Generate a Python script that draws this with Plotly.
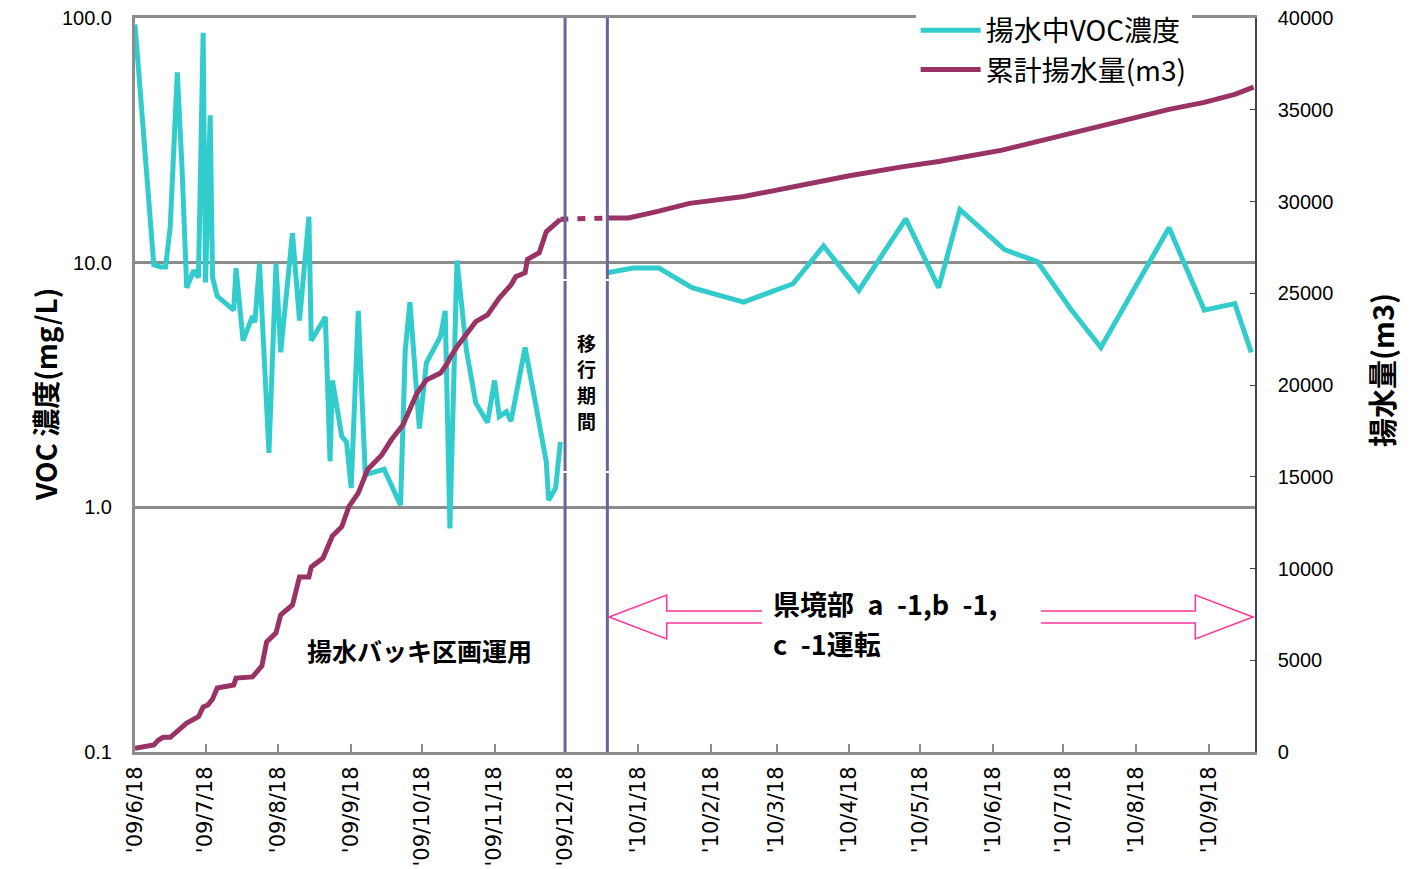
import pandas as pd
import plotly.graph_objects as go

# ---- data -------------------------------------------------------------
# VOC concentration in pumped water (mg/L), packer-block operation period
voc_dates_a = [
    "2009-06-18", "2009-06-26", "2009-06-29", "2009-07-01", "2009-07-03", "2009-07-06",
    "2009-07-08", "2009-07-10", "2009-07-13", "2009-07-15", "2009-07-17", "2009-07-18",
    "2009-07-20", "2009-07-21", "2009-07-23", "2009-07-30", "2009-07-31", "2009-08-03",
    "2009-08-07", "2009-08-08", "2009-08-10", "2009-08-14", "2009-08-17", "2009-08-19",
    "2009-08-24", "2009-08-27", "2009-08-31", "2009-09-01", "2009-09-07", "2009-09-09",
    "2009-09-10", "2009-09-14", "2009-09-16", "2009-09-18", "2009-09-21", "2009-09-24",
    "2009-10-02", "2009-10-09", "2009-10-11", "2009-10-13", "2009-10-17", "2009-10-20",
    "2009-10-26", "2009-10-28", "2009-10-30", "2009-11-02", "2009-11-06", "2009-11-10",
    "2009-11-15", "2009-11-18", "2009-11-20", "2009-11-23", "2009-11-25", "2009-11-27",
    "2009-12-01", "2009-12-10", "2009-12-11", "2009-12-14", "2009-12-16",
]
voc_values_a = [
    94, 9.8, 9.6, 9.6, 14, 60,
    24.6, 7.9, 9.3, 8.7, 87, 8.3,
    40, 8.7, 7.3, 6.4, 9.5, 4.8,
    6.05, 5.7, 9.9, 1.67, 9.9, 4.3,
    13.2, 5.8, 15.4, 4.8, 6.0, 1.54,
    3.3, 1.95, 1.85, 1.2, 6.35, 1.36,
    1.43, 1.02, 4.4, 6.9, 2.1, 3.9,
    5.0, 6.35, 0.82, 10.2, 4.4, 2.67,
    2.22, 3.3, 2.35, 2.46, 2.25, 2.9,
    4.5, 1.54, 1.07, 1.2, 1.85,
]

# VOC concentration, boundary wells a-1, b-1, c-1 operation period
voc_dates_b = [
    "2010-01-05", "2010-01-16", "2010-01-27", "2010-02-10", "2010-03-04", "2010-03-25",
    "2010-04-07", "2010-04-22", "2010-05-12", "2010-05-26", "2010-06-04", "2010-06-23",
    "2010-07-07", "2010-07-21", "2010-08-03", "2010-09-01", "2010-09-16", "2010-09-29",
    "2010-10-06",
]
voc_values_b = [
    9.1, 9.5, 9.5, 7.9, 6.9, 8.2,
    11.7, 7.7, 15.1, 7.9, 16.5, 11.3,
    10.1, 6.5, 4.5, 13.9, 6.4, 6.8,
    4.3,
]

# cumulative pumped volume (m3)
pump_dates_a = [
    "2009-06-18", "2009-06-26", "2009-06-28", "2009-06-30", "2009-07-03", "2009-07-07",
    "2009-07-10", "2009-07-15", "2009-07-17", "2009-07-19", "2009-07-21", "2009-07-23",
    "2009-07-30", "2009-07-31", "2009-08-03", "2009-08-07", "2009-08-11", "2009-08-13",
    "2009-08-17", "2009-08-19", "2009-08-24", "2009-08-27", "2009-08-31", "2009-09-01",
    "2009-09-06", "2009-09-10", "2009-09-14", "2009-09-17", "2009-09-21", "2009-09-25",
    "2009-10-01", "2009-10-05", "2009-10-10", "2009-10-16", "2009-10-20", "2009-10-26",
    "2009-10-29", "2009-10-30", "2009-11-02", "2009-11-10", "2009-11-15", "2009-11-20",
    "2009-11-25", "2009-11-27", "2009-12-01", "2009-12-02", "2009-12-07", "2009-12-10",
    "2009-12-16",
]
pump_values_a = [
    200, 380, 650, 800, 800, 1200,
    1580, 1920, 2450, 2560, 2890, 3490,
    3650, 4030, 4030, 4090, 4690, 5990,
    6490, 7470, 8010, 9540, 9540, 10080,
    10570, 11770, 12280, 13370, 14110, 15400,
    16190, 17000, 17820, 19560, 20270, 20650,
    21200, 21470, 22090, 23450, 23820, 24740,
    25450, 25900, 26120, 26850, 27210, 28350,
    29030,
]
pump_dates_b = [
    "2010-01-05", "2010-01-14", "2010-01-26", "2010-02-09", "2010-03-04", "2010-03-25",
    "2010-04-18", "2010-05-11", "2010-05-26", "2010-06-22", "2010-07-07", "2010-08-03",
    "2010-09-01", "2010-09-16", "2010-09-29", "2010-10-07",
]
pump_values_b = [
    29100, 29100, 29450, 29900, 30270, 30800,
    31400, 31900, 32180, 32800, 33270, 34150,
    35020, 35400, 35840, 36230,
]

# axis ticks
x_tick_dates = [
    "2009-06-18", "2009-07-18", "2009-08-18", "2009-09-18", "2009-10-18", "2009-11-18",
    "2009-12-18", "2010-01-18", "2010-02-18", "2010-03-18", "2010-04-18", "2010-05-18",
    "2010-06-18", "2010-07-18", "2010-08-18", "2010-09-18",
]
x_tick_labels = [
    "'09/6/18", "'09/7/18", "'09/8/18", "'09/9/18", "'09/10/18", "'09/11/18",
    "'09/12/18", "'10/1/18", "'10/2/18", "'10/3/18", "'10/4/18", "'10/5/18",
    "'10/6/18", "'10/7/18", "'10/8/18", "'10/9/18",
]
voc_tick_values = [0.1, 1, 10, 100]
voc_tick_labels = ["0.1", "1.0", "10.0", "100.0"]

# transition period between the two operating modes
transition_start = "2009-12-18"
transition_end = "2010-01-05"
transition_label = ["移", "行", "期", "間"]

# ---- styling ----------------------------------------------------------
TEAL = "#33CCCC"
PLUM = "#993366"
SLATE = "#666699"
PINK = "#FF3399"
GRID = "#8C8C8C"
JP = "Noto Sans CJK JP"
NUM = "Liberation Sans, Arial, sans-serif"

x_start = pd.Timestamp("2009-06-18")
x_end = pd.Timestamp("2010-10-07 14:00")
PLOT_W = 1421 - 135 - 166  # plot-area width in px
PLOT_H = 869 - 18 - 117    # plot-area height in px


def xpaper(d):
    """Date -> fraction of the plot width."""
    return (pd.Timestamp(d) - x_start) / (x_end - x_start)


def ypx(py):
    """Pixel row measured from the top of the figure -> paper fraction."""
    return (752 - py) / PLOT_H


def xpx(px):
    """Pixel column measured from the left of the figure -> paper fraction."""
    return (px - 135) / PLOT_W


fig = go.Figure()

# VOC concentration (one trace, gap during transition)
fig.add_trace(go.Scatter(
    x=voc_dates_a + [None] + voc_dates_b,
    y=voc_values_a + [None] + voc_values_b,
    mode="lines", name="揚水中VOC濃度",
    line=dict(color=TEAL, width=5),
    connectgaps=False, yaxis="y",
))

# cumulative pumped volume
fig.add_trace(go.Scatter(
    x=pump_dates_a + [None] + pump_dates_b,
    y=pump_values_a + [None] + pump_values_b,
    mode="lines", name="累計揚水量(m3)",
    line=dict(color=PLUM, width=5),
    connectgaps=False, yaxis="y2",
))
# dashed bridge across the transition period
fig.add_trace(go.Scatter(
    x=[pump_dates_a[-1], pump_dates_b[0]],
    y=[pump_values_a[-1], pump_values_b[0]],
    mode="lines", showlegend=False, hoverinfo="skip",
    line=dict(color=PLUM, width=5, dash="8px,9px"),
    yaxis="y2",
))

shapes = []
# transition period boundaries
for d in (transition_start, transition_end):
    shapes.append(dict(type="line", xref="x", yref="paper", x0=d, x1=d, y0=0, y1=1,
                       line=dict(color=SLATE, width=3), layer="above"))
# small white breaks across the transition band
for py in (280, 472):
    shapes.append(dict(type="line", xref="paper", yref="paper",
                       x0=xpaper("2009-12-16"), x1=xpaper("2010-01-06"), y0=ypx(py), y1=ypx(py),
                       line=dict(color="white", width=2), layer="above"))

# hollow double-headed arrow for the boundary-well operation period
ax0 = xpaper(transition_end) + 0.0015
ax1 = 0.9982
head = 0.0515
yc, yh, ys = ypx(617), 0.0300, 0.0082
path = (
    f"M{ax0},{yc} L{ax0 + head},{yc + yh} L{ax0 + head},{yc + ys} "
    f"L{ax1 - head},{yc + ys} L{ax1 - head},{yc + yh} L{ax1},{yc} "
    f"L{ax1 - head},{yc - yh} L{ax1 - head},{yc - ys} L{ax0 + head},{yc - ys} "
    f"L{ax0 + head},{yc - yh} Z"
)
shapes.append(dict(type="path", xref="paper", yref="paper", path=path,
                   fillcolor="white", line=dict(color=PINK, width=1.5), layer="above"))
# white panel behind the arrow label
shapes.append(dict(type="rect", xref="paper", yref="paper",
                   x0=xpx(762), x1=xpx(1041), y0=ypx(632), y1=ypx(585),
                   fillcolor="white", line=dict(width=0), layer="above"))

annotations = [
    dict(text="<b>揚水バッキ区画運用</b>", xref="paper", yref="paper",
         x=xpx(419), y=ypx(650), xanchor="center", yanchor="middle", showarrow=False,
         font=dict(family=JP, size=25, color="black")),
    dict(text="<b>県境部\u2002a\u2002-1,b\u2002-1,</b>", xref="paper", yref="paper",
         x=xpx(771), y=ypx(603), xanchor="left", yanchor="middle", align="left",
         showarrow=False, font=dict(family=JP, size=27, color="black")),
    dict(text="<b>c\u2002-1運転</b>", xref="paper", yref="paper",
         x=xpx(771), y=ypx(643), xanchor="left", yanchor="middle", align="left",
         showarrow=False, font=dict(family=JP, size=27, color="black")),
    # axis titles
    dict(text="<b>VOC 濃度(mg/L)</b>", xref="paper", yref="paper",
         x=xpx(45), y=ypx(395), xanchor="center", yanchor="middle",
         textangle=-90, showarrow=False, font=dict(family=JP, size=28, color="black")),
    dict(text="<b>揚水量(m3)</b>", xref="paper", yref="paper",
         x=xpx(1381), y=ypx(370), xanchor="center", yanchor="middle",
         textangle=-90, showarrow=False, font=dict(family=JP, size=29, color="black")),
]
# vertical label inside the transition band, one character per row
for i, ch in enumerate(transition_label):
    annotations.append(dict(
        text=f"<b>{ch}</b>", xref="paper", yref="paper",
        x=xpaper("2009-12-27"), y=ypx(342 + 26 * i),
        xanchor="center", yanchor="middle", showarrow=False,
        font=dict(family=JP, size=19, color="black"),
    ))

fig.update_layout(
    width=1421, height=869,
    margin=dict(l=135, r=166, t=18, b=117, autoexpand=False),
    paper_bgcolor="white", plot_bgcolor="white",
    showlegend=True,
    legend=dict(
        x=0.697, y=1.017, xanchor="left", yanchor="top",
        bgcolor="white", borderwidth=0,
        font=dict(family=JP, size=28, color="black"),
        tracegroupgap=0, itemwidth=60,
    ),
    xaxis=dict(
        type="date", range=[x_start, x_end], automargin=False,
        tickvals=x_tick_dates, ticktext=x_tick_labels, tickangle=-90,
        tickfont=dict(family="DejaVu Sans", size=21, color="black"),
        ticks="inside", ticklen=8, tickwidth=2, tickcolor=GRID,
        ticklabelstandoff=3,
        showgrid=False, showline=True, linecolor=GRID, linewidth=3, mirror=True,
        zeroline=False,
    ),
    yaxis=dict(
        type="log", range=[-1, 2], automargin=False,
        tickvals=voc_tick_values, ticktext=voc_tick_labels,
        tickfont=dict(family=NUM, size=20, color="black"),
        ticks="", ticklabelstandoff=16,
        showgrid=True, gridcolor=GRID, gridwidth=3,
        showline=True, linecolor=GRID, linewidth=3,
    ),
    yaxis2=dict(
        overlaying="y", side="right", range=[0, 40000], dtick=5000,
        tickformat="d", automargin=False,
        tickfont=dict(family=NUM, size=20, color="black"),
        ticks="inside", ticklen=5, tickwidth=1, tickcolor="#444444",
        ticklabelstandoff=17,
        showgrid=False, showline=True, linecolor="#444444", linewidth=1.5,
        zeroline=False,
    ),
    shapes=shapes,
    annotations=annotations,
)

fig.write_html("out.html")
